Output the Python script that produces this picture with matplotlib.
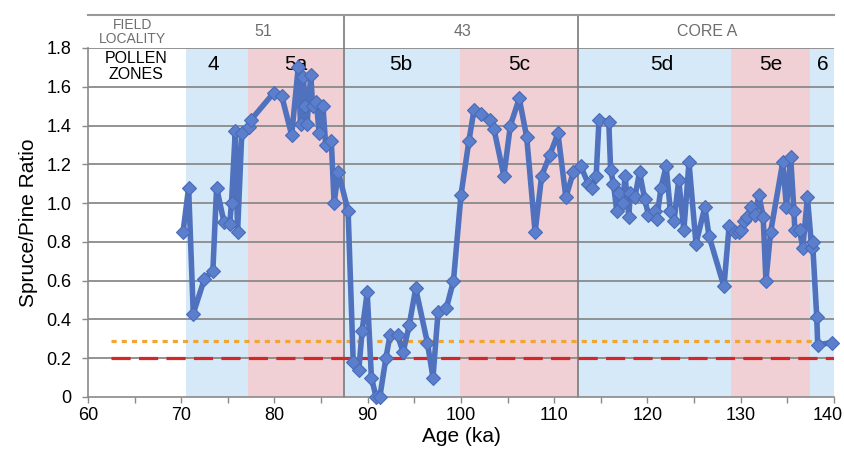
import matplotlib
matplotlib.use("Agg")
import matplotlib.pyplot as plt
from matplotlib.transforms import ScaledTranslation

plt.rcParams['font.family'] = ['Liberation Sans', 'DejaVu Sans']

# ---- data ----
age = [70.2, 70.8, 71.3, 72.5, 73.4, 73.8, 74.6, 75.2, 75.4, 75.8, 76.05, 76.5,
       77.3, 77.5, 79.95, 80.8, 81.85, 82.55, 82.8, 83.1, 83.3, 83.5, 83.9, 84.1,
       84.5, 84.8, 85.2, 85.5, 86.1, 86.4, 86.85, 87.9,
       88.45, 89.05, 89.4, 89.95, 90.4, 90.9, 91.3, 91.95, 92.4, 93.2, 93.8,
       94.45, 95.15, 96.4, 97.0, 97.55, 98.45, 99.2,
       100.0, 100.85, 101.4, 102.1, 103.1, 103.55, 104.6, 105.3, 106.25, 107.05,
       107.95, 108.65, 109.55, 110.4, 111.25,
       112.05, 112.85, 113.65, 114.1, 114.5, 114.8, 115.85, 116.05, 116.35, 116.7,
       116.9, 117.35, 117.6, 118.0, 118.15, 118.65, 119.15, 119.7, 120.1, 120.8,
       121.0, 121.45, 122.0, 122.45, 122.85, 123.35, 123.9, 124.45, 125.2, 126.15,
       126.6, 128.2, 128.75,
       129.4, 129.85, 130.05, 130.35, 130.7, 131.1, 131.5, 131.95, 132.4, 132.7,
       133.2, 134.5, 134.9, 135.35, 135.7, 135.8, 136.3, 136.65, 137.15, 137.6,
       137.7, 138.15, 138.25, 139.75]
ratio = [0.85, 1.08, 0.43, 0.61, 0.65, 1.08, 0.90, 0.89, 1.00, 1.37, 0.85, 1.36,
         1.39, 1.43, 1.57, 1.55, 1.35, 1.70, 1.41, 1.65, 1.50, 1.41, 1.66, 1.50,
         1.52, 1.36, 1.50, 1.30, 1.32, 1.00, 1.16, 0.96,
         0.18, 0.14, 0.34, 0.54, 0.10, 0.00, 0.00, 0.20, 0.32, 0.32, 0.23,
         0.37, 0.56, 0.28, 0.10, 0.44, 0.46, 0.60,
         1.04, 1.32, 1.48, 1.46, 1.43, 1.38, 1.14, 1.40, 1.54, 1.34,
         0.85, 1.14, 1.25, 1.36, 1.03,
         1.16, 1.19, 1.10, 1.08, 1.14, 1.43, 1.42, 1.17, 1.10, 0.96,
         1.05, 1.00, 1.14, 0.93, 1.05, 1.03, 1.16, 1.02, 0.94, 0.96,
         0.92, 1.08, 1.19, 0.96, 0.91, 1.12, 0.86, 1.21, 0.79, 0.98,
         0.83, 0.57, 0.88,
         0.85, 0.85, 0.86, 0.91, 0.93, 0.98, 0.94, 1.04, 0.93, 0.60,
         0.85, 1.21, 0.98, 1.24, 0.96, 0.86, 0.86, 0.77, 1.03, 0.77,
         0.80, 0.41, 0.27, 0.28]

zone_names = ['4', '5a', '5b', '5c', '5d', '5e', '6']
zone_edges = [70.5, 77.2, 87.5, 99.9, 112.5, 129.0, 137.4, 140.0]
zone_kind = ['b', 'p', 'b', 'p', 'b', 'p', 'b']
zone_label_x = [73.4, 82.3, 93.5, 106.2, 121.5, 133.2, 138.8]

locality_names = ['51', '43', 'CORE A']
locality_edges = [70.5, 87.5, 112.5, 140.0]
locality_label_x = [78.8, 100.2, 126.4]

threshold_orange = 0.29
threshold_red = 0.2

yticks = [0, 0.2, 0.4, 0.6, 0.8, 1.0, 1.2, 1.4, 1.6, 1.8]
ytick_labels = ['0', '0.2', '0.4', '0.6', '0.8', '1.0', '1.2', '1.4', '1.6', '1.8']
xticks = [60, 70, 80, 90, 100, 110, 120, 130, 140]

# ---- figure ----
fig = plt.figure(figsize=(8.45, 4.57), dpi=100)
ax = fig.add_axes([0.104, 0.1313, 0.883, 0.7637])
ax.set_xlim(60, 140)
ax.set_ylim(0, 1.8)

colors = {'b': '#D5E9F8', 'p': '#F0D0D4'}
for i, name in enumerate(zone_names):
    ax.axvspan(zone_edges[i], zone_edges[i + 1], ymin=0, ymax=1,
               color=colors[zone_kind[i]], zorder=0, lw=0)
    ax.text(zone_label_x[i], 1.715, name, ha='center', va='center', fontsize=15,
            color='black', zorder=5)

grid_c = '#8a8a8a'
for y in yticks[1:]:
    ax.axhline(y, color=grid_c, lw=1.3, zorder=1)

# locality dividers
for xv in locality_edges[1:-1]:
    ax.plot([xv, xv], [0, 1.97], color='#7a7a7a', lw=1.2, zorder=1, clip_on=False)
# header top line
ax.plot([60, 140], [1.97, 1.97], color='#9a9a9a', lw=1.5, clip_on=False, zorder=1)

hdr_c = '#6e6e6e'
for name, xv in zip(locality_names, locality_label_x):
    ax.text(xv, 1.885, name, ha='center', va='center', fontsize=11.5, color=hdr_c,
            clip_on=False)
ax.text(64.8, 1.885, 'FIELD\nLOCALITY', ha='center', va='center', fontsize=10,
        color=hdr_c, linespacing=1.0, clip_on=False)
ax.text(65.2, 1.705, 'POLLEN\nZONES', ha='center', va='center', fontsize=11.5,
        color='black', linespacing=1.05)

# thresholds
ax.plot([62.5, 140], [threshold_orange, threshold_orange], color='#F0A630', lw=2.3,
        dashes=(1.6, 1.6), zorder=3)
ax.plot([62.5, 140], [threshold_red, threshold_red], color='#D42828', lw=2.3,
        dashes=(6.0, 2.6), zorder=3)

# data
ax.plot(age, ratio, color='#4F71BE', lw=4.0, marker='D', markersize=7.2,
        markerfacecolor='#5B7FCC', markeredgecolor='#4A6BB8', markeredgewidth=0.8,
        zorder=6, clip_on=False)

ax.set_yticks(yticks)
ax.set_yticklabels(ytick_labels)
ax.set_xticks(xticks)
ax.set_xticks([65, 75, 85, 95, 105, 115, 125, 135], minor=True)
ax.tick_params(axis='both', labelsize=13, color='#8a8a8a', length=4, width=1)
ax.tick_params(axis='x', which='minor', color='#8a8a8a', length=4, width=1)
ax.tick_params(axis='y', pad=8)

# nudge the last x tick label inside the canvas
fig.canvas.draw()
last = ax.get_xticklabels()[-1]
last.set_transform(last.get_transform() + ScaledTranslation(-6 / 100, 0, fig.dpi_scale_trans))

for s in ['top', 'right']:
    ax.spines[s].set_visible(False)
for s in ['left', 'bottom']:
    ax.spines[s].set_color('#8a8a8a')
    ax.spines[s].set_linewidth(1.2)

ax.set_xlabel('Age (ka)', fontsize=15, labelpad=2)
ax.set_ylabel('Spruce/Pine Ratio', fontsize=15, labelpad=6)

fig.savefig('out.png', dpi=100)
